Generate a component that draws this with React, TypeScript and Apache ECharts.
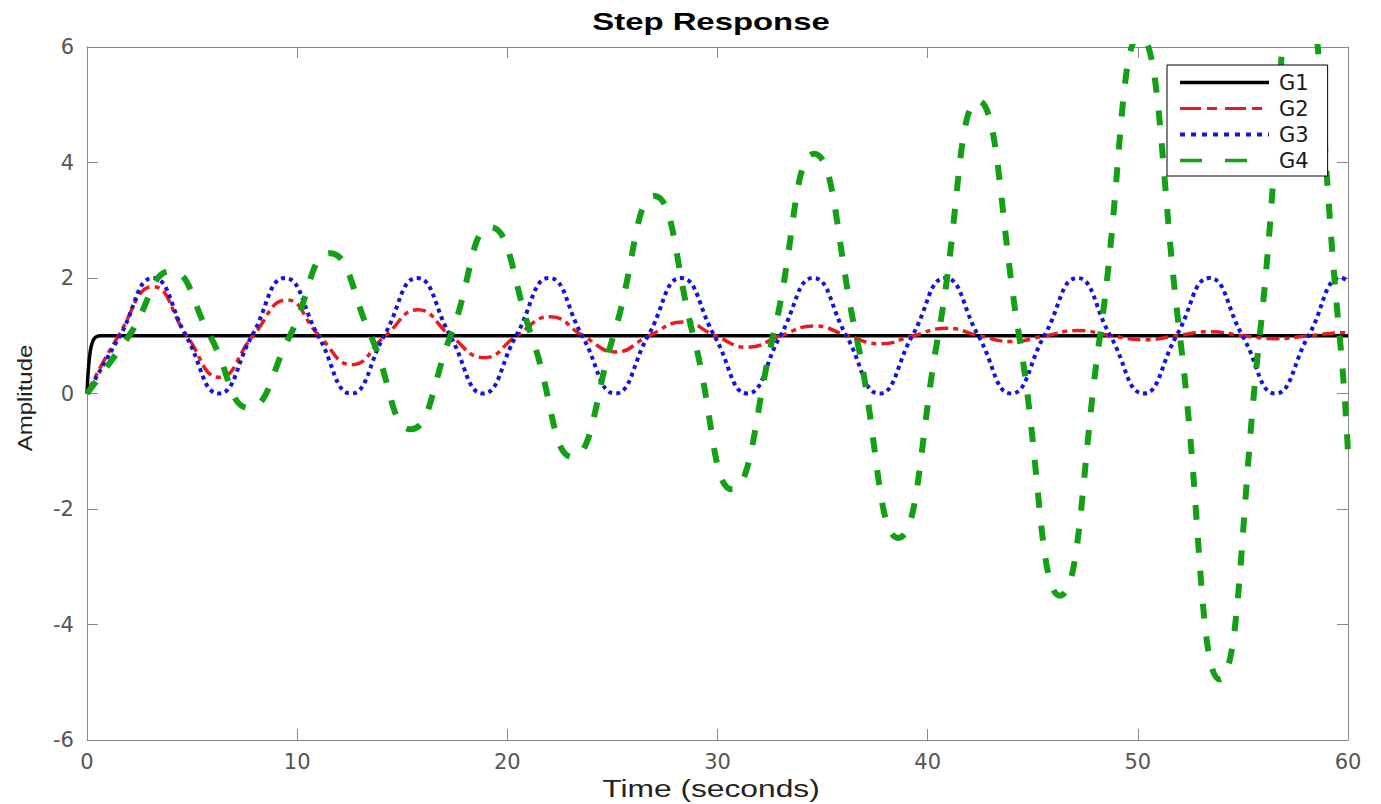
import React, { useEffect, useRef } from "react";
import * as echarts from "echarts";

// ---- Data ----
const seriesNames = ["G1", "G2", "G3", "G4"];

const g1Time = [0, 0.03, 0.06, 0.1, 0.15, 0.2, 0.28, 0.36, 0.45, 0.6, 60];
const g1Amp = [0, 0.22, 0.4, 0.57, 0.72, 0.82, 0.91, 0.96, 0.985, 1, 1];

const g2Time = [
  0, 1.5, 3.15, 4.75, 6.3, 7.9, 9.5, 11.05, 12.6, 14.2, 15.75, 17.3, 18.9, 20.45, 22.05, 23.6,
  25.15, 26.75, 28.35, 29.9, 31.45, 33.0, 34.6, 36.2, 37.75, 39.3, 40.9, 42.45, 44.0, 45.6,
  47.15, 48.75, 50.3, 51.85, 53.45, 55.0, 56.6, 58.15, 59.7, 60,
];
const g2Amp = [
  0, 1.0, 1.85, 1.0, 0.28, 1.0, 1.62, 1.0, 0.5, 1.0, 1.45, 1.0, 0.62, 1.0, 1.33, 1.0,
  0.72, 1.0, 1.24, 1.0, 0.8, 1.0, 1.17, 1.0, 0.86, 1.0, 1.13, 1.0, 0.9, 1.0,
  1.09, 1.0, 0.93, 1.0, 1.07, 1.0, 0.95, 1.0, 1.05, 1.05,
];

const g3Time = [
  0, 1.57, 3.14, 4.71, 6.28, 7.85, 9.42, 11.0, 12.57, 14.14, 15.71, 17.28, 18.85, 20.42, 21.99,
  23.56, 25.13, 26.7, 28.27, 29.85, 31.42, 32.99, 34.56, 36.13, 37.7, 39.27, 40.84, 42.41, 43.98,
  45.55, 47.12, 48.69, 50.27, 51.84, 53.41, 54.98, 56.55, 58.12, 59.69, 60,
];
const g3Amp = [
  0, 1, 2, 1, 0, 1, 2, 1, 0, 1, 2, 1, 0, 1, 2,
  1, 0, 1, 2, 1, 0, 1, 2, 1, 0, 1, 2, 1, 0,
  1, 2, 1, 0, 1, 2, 1, 0, 1, 2, 1.95,
];

const g4Time = [
  0, 2.0, 4.0, 5.85, 7.7, 9.65, 11.56, 13.5, 15.4, 17.3, 19.2, 21.15, 23.1, 25.05, 27.0, 28.85,
  30.7, 32.65, 34.6, 36.6, 38.6, 40.5, 42.4, 44.35, 46.3, 48.2, 50.1, 52.0, 53.9, 55.8, 57.7,
  59.6, 60,
];
const g4Amp = [
  0, 1, 2.12, 1, -0.25, 1, 2.43, 1, -0.62, 1, 2.88, 1, -1.1, 1, 3.42, 1,
  -1.66, 1, 4.15, 1, -2.5, 1, 5.07, 1, -3.5, 1, 6.2, 1, -4.95, 1, 7.5,
  1, -1.02,
];

const xMin = 0;
const xMax = 60;
const xStep = 10;
const yMin = -6;
const yMax = 6;
const yStep = 2;

const pairs = (t: number[], v: number[]) => t.map((x, i) => [x, v[i]]);

export default function App() {
  const ref = useRef<HTMLDivElement>(null);

  useEffect(() => {
    document.body.style.margin = "0";
    if (!ref.current) return;
    const chart = echarts.init(ref.current, undefined, { renderer: "svg" });

    const axisColor = "#8a8a8a";
    const labelFont = "DejaVu Sans";

    const xBase = {
      type: "value",
      min: xMin,
      max: xMax,
      interval: xStep,
      axisLine: { show: true, onZero: false, lineStyle: { color: axisColor, width: 1 } },
      axisTick: { show: true, inside: true, length: 11, lineStyle: { color: axisColor } },
      splitLine: { show: false },
    };
    const yBase = {
      type: "value",
      min: yMin,
      max: yMax,
      interval: yStep,
      axisLine: { show: true, onZero: false, lineStyle: { color: axisColor, width: 1 } },
      axisTick: { show: true, inside: true, length: 11, lineStyle: { color: axisColor } },
      splitLine: { show: false },
    };

    const colors = ["#000000", "#e81c1c", "#1414dc", "#14a014"];
    const hiddenSymbol = { color: "rgba(0,0,0,0)", opacity: 0, borderWidth: 0 };

    chart.setOption({
      animation: false,
      backgroundColor: "#ffffff",
      grid: { left: 87, top: 47, width: 1261, height: 693, containLabel: false },
      xAxis: [
        {
          ...xBase,
          position: "bottom",
          axisLabel: { show: true, margin: 11, color: "#555", fontSize: 21, fontFamily: labelFont },
        },
        { ...xBase, position: "top", axisLabel: { show: false } },
      ],
      yAxis: [
        {
          ...yBase,
          position: "left",
          axisLabel: { show: true, margin: 13, color: "#555", fontSize: 21, fontFamily: labelFont },
        },
        { ...yBase, position: "right", axisLabel: { show: false } },
      ],
      legend: {
        orient: "vertical",
        left: 1167,
        top: 65,
        padding: [7, 19, 5, 11],
        itemWidth: 89,
        itemHeight: 20,
        itemGap: 5,
        backgroundColor: "#ffffff",
        borderColor: "#000000",
        borderWidth: 1,
        borderRadius: 0,
        selectedMode: false,
        itemStyle: hiddenSymbol,
        textStyle: {
          color: "#1a1a1a",
          fontSize: 21,
          lineHeight: 20,
          fontFamily: labelFont,
          padding: [0, 0, 0, 5],
        },
        data: [
          { name: "G1", itemStyle: hiddenSymbol, lineStyle: { width: 3.5, type: "solid", color: colors[0] } },
          { name: "G2", itemStyle: hiddenSymbol, lineStyle: { width: 3, type: [21, 6, 10, 8], color: colors[1] } },
          { name: "G3", itemStyle: hiddenSymbol, lineStyle: { width: 4, type: [5, 6], color: colors[2] } },
          { name: "G4", itemStyle: hiddenSymbol, lineStyle: { width: 3.5, type: [22, 23], color: colors[3] } },
        ],
      },
      series: [
        {
          name: seriesNames[0],
          type: "line",
          data: pairs(g1Time, g1Amp),
          symbol: "none",
          smooth: false,
          clip: true,
          lineStyle: { color: colors[0], width: 3.5, type: "solid" },
          itemStyle: { color: colors[0] },
        },
        {
          name: seriesNames[1],
          type: "line",
          data: pairs(g2Time, g2Amp),
          symbol: "none",
          smooth: 0.5,
          clip: true,
          lineStyle: { color: colors[1], width: 3.5, type: [13, 5, 5, 5], cap: "butt" },
          itemStyle: { color: colors[1] },
        },
        {
          name: seriesNames[2],
          type: "line",
          data: pairs(g3Time, g3Amp),
          symbol: "none",
          smooth: 0.5,
          clip: true,
          lineStyle: { color: colors[2], width: 4, type: [4, 4], cap: "butt" },
          itemStyle: { color: colors[2] },
        },
        {
          name: seriesNames[3],
          type: "line",
          data: pairs(g4Time, g4Amp),
          symbol: "none",
          smooth: 0.5,
          clip: true,
          lineStyle: { color: colors[3], width: 6, type: [15, 18], cap: "butt" },
          itemStyle: { color: colors[3] },
        },
      ],
      graphic: [
        {
          type: "text",
          x: 711,
          y: 22,
          scaleX: 1.37,
          style: {
            text: "Step Response",
            fontFamily: "Liberation Sans",
            fontWeight: "bold",
            fontSize: 24,
            fill: "#000",
            align: "center",
            verticalAlign: "middle",
          },
        },
        {
          type: "text",
          x: 711,
          y: 789,
          scaleX: 1.38,
          style: {
            text: "Time (seconds)",
            fontFamily: "Liberation Sans",
            fontSize: 23,
            fill: "#222",
            align: "center",
            verticalAlign: "middle",
          },
        },
        {
          type: "text",
          x: 25,
          y: 398,
          rotation: Math.PI / 2,
          scaleX: 1.2,
          style: {
            text: "Amplitude",
            fontFamily: "Liberation Sans",
            fontSize: 20,
            fill: "#222",
            align: "center",
            verticalAlign: "middle",
          },
        },
      ],
    });

    return () => {
      chart.dispose();
    };
  }, []);

  return <div ref={ref} style={{ width: 1381, height: 804 }} />;
}
